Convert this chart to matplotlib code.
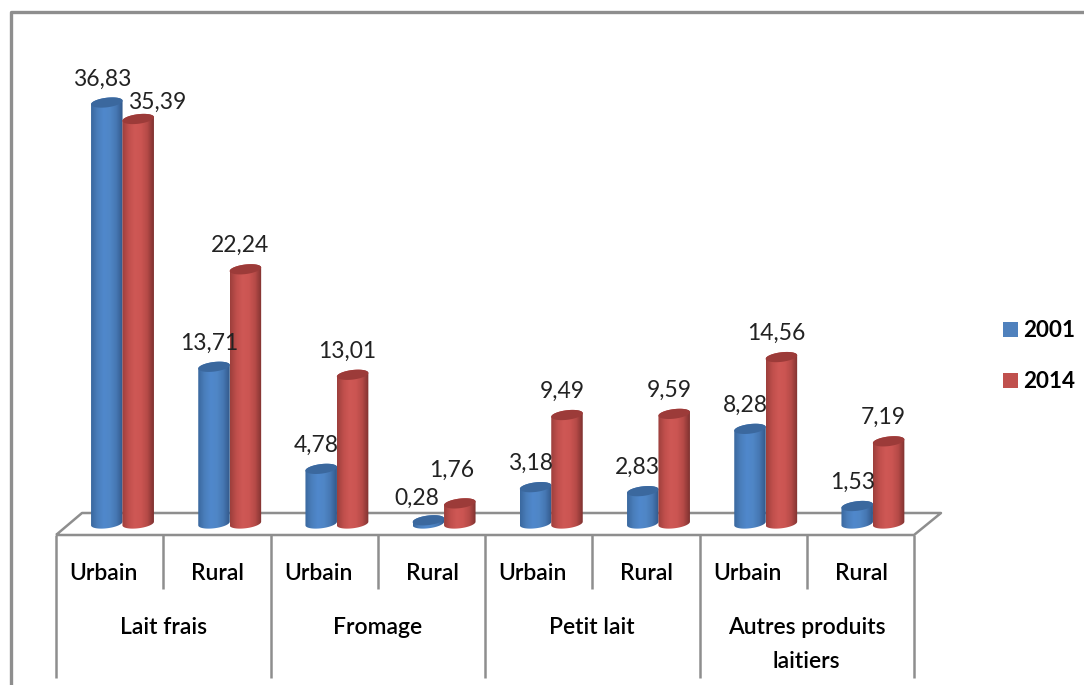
import numpy as np
import matplotlib
matplotlib.use("Agg")
import matplotlib.pyplot as plt
from matplotlib.patches import Polygon, Rectangle
from matplotlib.colors import LinearSegmentedColormap

sub_labels = ["Urbain", "Rural"] * 4
group_labels = ["Lait frais", "Fromage", "Petit lait", "Autres produits\nlaitiers"]
series_names = ["2001", "2014"]
values_2001 = [36.83, 13.71, 4.78, 0.28, 3.18, 2.83, 8.28, 1.53]
values_2014 = [35.39, 22.24, 13.01, 1.76, 9.49, 9.59, 14.56, 7.19]
label_2001 = ["36,83", "13,71", "4,78", "0,28", "3,18", "2,83", "8,28", "1,53"]
label_2014 = ["35,39", "22,24", "13,01", "1,76", "9,49", "9,59", "14,56", "7,19"]

W, H = 1084, 685
PX_X = 107.2
PX_Y = 11.43
X0, Y0 = 122.5, 523.5
plt.rcParams['font.family'] = ['Lato', 'DejaVu Sans']

fig = plt.figure(figsize=(W / 100, H / 100), dpi=100, facecolor="white")
ax = fig.add_axes([0, 0, 1, 1])
ax.set_xlim(-X0 / PX_X, (W - X0) / PX_X)
ax.set_ylim(-(H - Y0) / PX_Y, Y0 / PX_Y)
ax.axis("off")

dx = 1 / PX_X
dy = 1 / PX_Y
GREY = "#8e8e8e"

def line(xs, ys, lw=1.8, color=GREY, z=1):
    ax.plot(xs, ys, color=color, lw=lw, solid_capstyle="butt", zorder=z)

def px(x):
    return (x - X0) * dx

def py(y):
    return (Y0 - y) * dy

# frame: only the top and left edges are in view
line([px(11), px(11), px(1084)], [py(685), py(12), py(12)], lw=2.4)

# floor
line([px(56), px(82), px(941), px(914), px(56)], [py(535), py(513), py(513), py(535), py(535)])

# category dividers
for i in range(9):
    xp = 56 + i * (914 - 56) / 8
    bottom = 678 if i % 2 == 0 else 589
    line([px(xp), px(xp)], [py(535), py(bottom)])

cm_blue = LinearSegmentedColormap.from_list("b", ["#3a689f", "#4a7ebb", "#5088cc", "#4f86c6", "#4677b3", "#33598a"])
cm_red = LinearSegmentedColormap.from_list("r", ["#9d3f3c", "#c04f4c", "#cf5855", "#cb5552", "#b54a47", "#7f3230"])
top_blue = "#3b689e"
top_red = "#9c3b39"
grad = np.linspace(0, 1, 64).reshape(1, -1)
BW = 31.5 * dx
RY = 4.8 * dy
TILT = 1.8 * dy

def cylinder(xc, v, cmap, topc, z):
    t = np.linspace(0, np.pi, 50)
    bx = xc - BW / 2 * np.cos(t)
    by = -RY * np.sin(t) + TILT * (-np.cos(t))
    tx = xc + BW / 2 * np.cos(t)
    ty = v + RY * np.sin(t) + TILT * np.cos(t)
    body = Polygon(np.r_[np.c_[bx, by], np.c_[tx, ty]], closed=True, fc="none", ec="none", zorder=z)
    ax.add_patch(body)
    im = ax.imshow(grad, extent=[xc - BW / 2, xc + BW / 2, -2, v + 2], cmap=cmap,
                   aspect="auto", zorder=z, interpolation="bilinear")
    im.set_clip_path(body)
    tt = np.linspace(0, 2 * np.pi, 80)
    cx = xc + BW / 2 * np.cos(tt)
    cy = v + RY * np.sin(tt) + TILT * np.cos(tt)
    ax.add_patch(Polygon(np.c_[cx, cy], closed=True, fc=topc, ec="none", zorder=z + 0.1))

offs = 15.7 * dx
for i in range(8):
    cylinder(i - offs, values_2001[i], cm_blue, top_blue, 3 + i)
    cylinder(i + offs, values_2014[i], cm_red, top_red, 3.5 + i)

TXT = "#222222"
# (dx px, gap px) of each data label relative to its bar top
nudge_2001 = {3: (-12, 15)}
nudge_2014 = {0: (19, 10), 3: (-8, 27)}
for i in range(8):
    ox, oy = nudge_2001.get(i, (-5, 17))
    ax.text(i - offs + ox * dx, values_2001[i] + oy * dy, label_2001[i], ha="center", va="baseline",
            fontsize=16.5, color=TXT, zorder=30)
    ox, oy = nudge_2014.get(i, (-5, 17))
    ax.text(i + offs + ox * dx, values_2014[i] + oy * dy, label_2014[i], ha="center", va="baseline",
            fontsize=16.5, color=TXT, zorder=30)

# axis labels
for i, s in enumerate(sub_labels):
    cxp = 56 + (i + 0.5) * (914 - 56) / 8 + (-6 if s == "Urbain" else 1)
    ax.text(px(cxp), py(580), s, ha="center", va="baseline",
            fontsize=16.5, fontweight="semibold", color="black", zorder=30)
for g, s in enumerate(group_labels):
    cxp = 56 + (g + 0.5) * (914 - 56) / 4
    parts = s.split("\n")
    ax.text(px(cxp), py(634), parts[0], ha="center", va="baseline",
            fontsize=16.5, fontweight="semibold", color="black", zorder=30)
    if len(parts) > 1:
        ax.text(px(cxp), py(668), parts[1], ha="center", va="baseline",
                fontsize=16.5, fontweight="semibold", color="black", zorder=30)

# legend
for name, yb, c in zip(series_names, [337, 388], ["#4f81bd", "#c0504d"]):
    ax.add_patch(Rectangle((px(1003), py(yb)), 15 * dx, 15 * dy, fc=c, ec="none", zorder=30))
    ax.text(px(1023), py(yb), name, ha="left", va="baseline", fontsize=16.2,
            fontweight="bold", color="black", zorder=30)

ax.set_xlim(-X0 / PX_X, (W - X0) / PX_X)
ax.set_ylim(-(H - Y0) / PX_Y, Y0 / PX_Y)
fig.savefig("out.png", dpi=100)
